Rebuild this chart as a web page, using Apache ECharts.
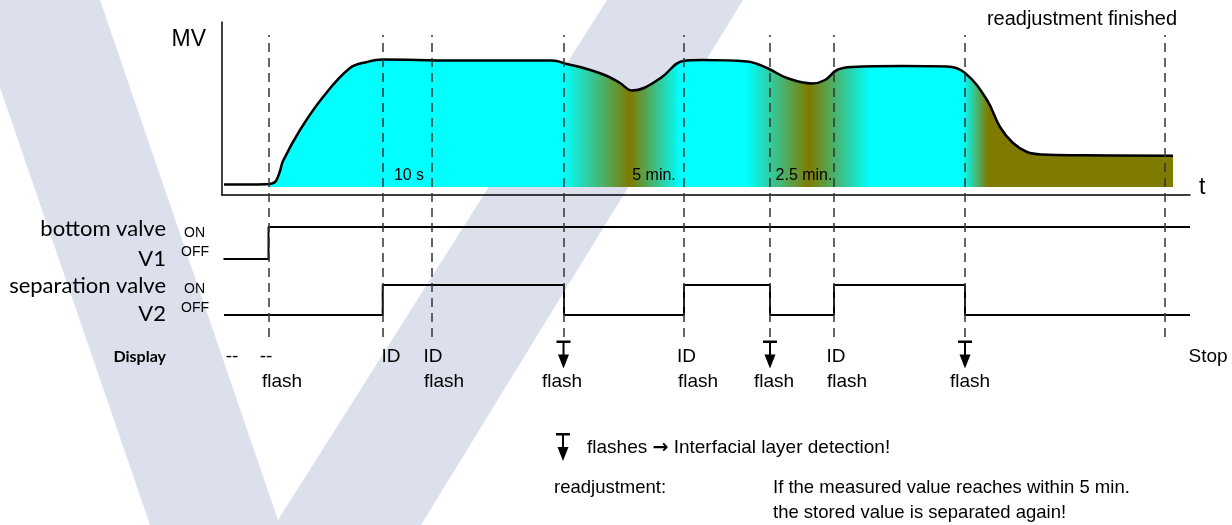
<!DOCTYPE html>
<html><head><meta charset="utf-8">
<script src="https://cdn.jsdelivr.net/npm/echarts@6/dist/echarts.min.js"></script>
<style>html,body{margin:0;padding:0;background:#fff}#c{width:1232px;height:525px}</style>
</head><body><div id="c"></div>
<script>
// ---- data (time in arbitrary units along t, MV in arbitrary units) ----
const mvTime  = [2,44,50,54,58,61,78,101,128,145,161,230,330,345,365,385,398,410,422,440,461,480,525,545,565,590,603,615,630,680,725,743,765,778,791,805,820,860,951];
const mvValue = [2.5,2.8,3.5,6,16,26,57,90,119,125,127.5,126.5,126.5,123,118,111,104,96.5,99,110,126,127,125.5,119,109,103.5,107,117,120,121,120.5,114,87,60,44,35,32.5,31.8,31.3];
// medium in front of the probe: A = upper phase (cyan), B = lower phase (olive)
const phaseTime = [46, 47, 341, 408, 458, 525, 587, 648, 741, 766, 951];
const phaseKind = ['none','A','A','B','A','A','B','A','A','B','B'];
// valves (0 = OFF, 1 = ON)
const v1Time  = [1.5, 46.5, 968];
const v1State = [0, 1, 1];
const v2Time  = [2, 160.7, 342, 462, 548, 612, 743, 968];
const v2State = [0, 1, 0, 1, 0, 1, 0, 0];
// event markers (dashed lines)
const eventTime = [46.7, 160.7, 210, 342, 462, 548, 612, 743, 943];
// interval annotations inside the MV plot
const intervalLabels = ['10 s', '5 min.', '2.5 min.'];
const intervalTime   = [187, 432, 582];
// display row
const displayTime  = [10, 44, 169, 211, 341.5, 464.5, 548, 614, 743, 986];
const displayText  = ['--', '--', 'ID', 'ID', 'ARROW', 'ID', 'ARROW', 'ID', 'ARROW', 'Stop'];
const flashTime    = [60, 222, 340, 476, 552, 625, 748];
const flashText    = ['flash','flash','flash','flash','flash','flash','flash'];

// ---- chart ----
const chart = echarts.init(document.getElementById('c'), null, {renderer: 'canvas'});
const T0 = mvTime[0], T1 = mvTime[mvTime.length - 1];
const phaseColor = {none: 'rgba(0,255,255,0)', A: '#00ffff', B: '#7f7a00'};
const stops = phaseTime.map((t, i) => ({offset: Math.min(1, Math.max(0, (t - T0) / (T1 - T0))), color: phaseColor[phaseKind[i]]}));
const areaGrad = {type: 'linear', x: 0, y: 0, x2: 1, y2: 0, colorStops: stops, global: false};

const L = 222, R = 42, XMAX = 968;
const fontA = 'Liberation Sans, Arial, sans-serif';
const fontC = 'Lato, "Open Sans", sans-serif';
const arrowPath = 'path://M0,0H14V2.5H8V14H12.5L7,28L1.5,14H6V2.5H0Z';

function xA(i, show) {
  return {type: 'value', gridIndex: i, min: 0, max: XMAX, show: !!show,
    axisLine: {show: !!show, onZero: false, lineStyle: {color: '#000', width: 1.5}},
    axisTick: {show: false}, axisLabel: {show: false}, splitLine: {show: false}};
}
function yA(i, min, max, show, inverse) {
  return {type: 'value', gridIndex: i, min: min, max: max, show: !!show, inverse: !!inverse,
    axisLine: {show: !!show, onZero: false, lineStyle: {color: '#000', width: 1.5}},
    axisTick: {show: false}, axisLabel: {show: false}, splitLine: {show: false}};
}
const txt = (s, x, y, o) => ({type: 'text', x: x, y: y, style: Object.assign({text: s, fill: '#000', font: '19px ' + fontA, textVerticalAlign: 'middle'}, o || {})});
const labelStyle = (size) => ({show: true, position: 'inside', formatter: p => p.name, color: '#000', fontFamily: fontA, fontSize: size});

const option = {
  animation: false,
  backgroundColor: '#fff',
  grid: [
    {left: L, right: R, top: 22, height: 173},
    {left: L, right: R, top: 227, height: 32},
    {left: L, right: R, top: 285, height: 30},
    {left: L, right: R, top: 35, height: 302},
    {left: L, right: R, top: 340, height: 50}
  ],
  xAxis: [xA(0, true), xA(1), xA(2), xA(3), xA(4)],
  yAxis: [yA(0, -8, 165, true), yA(1, 0, 1), yA(2, 0, 1), yA(3, 0, 1), yA(4, 0, 50, false, true)],
  graphic: [
    {type: 'polygon', z: -10, silent: true,
     shape: {points: [[-30,0],[100,0],[278,520],[607,0],[743,0],[421,525],[150,525]]},
     style: {fill: '#dbe0ec'}},
    txt('MV', 206, 40, {font: '23px ' + fontA, textAlign: 'right'}),
    txt('t', 1199, 188, {font: '23px ' + fontA}),
    txt('readjustment finished', 1177, 19, {font: '20px ' + fontA, textAlign: 'right'}),
    txt('bottom valve', 166, 229, {font: '22px ' + fontC, textAlign: 'right'}),
    txt('V1', 166, 259, {font: '22px ' + fontC, textAlign: 'right'}),
    txt('separation valve', 166, 286, {font: '22px ' + fontC, textAlign: 'right'}),
    txt('V2', 166, 314, {font: '22px ' + fontC, textAlign: 'right'}),
    txt('ON', 184, 233, {font: '14px ' + fontA}),
    txt('OFF', 181, 252, {font: '14px ' + fontA}),
    txt('ON', 184, 289, {font: '14px ' + fontA}),
    txt('OFF', 181, 308, {font: '14px ' + fontA}),
    txt('Display', 166, 357, {font: 'bold 16px ' + fontC, textAlign: 'right'}),
    {type: 'group', x: 556, y: 433, children: [
      {type: 'rect', shape: {x: 0, y: 0, width: 14, height: 2.5}, style: {fill: '#000'}},
      {type: 'rect', shape: {x: 6, y: 0, width: 2, height: 15}, style: {fill: '#000'}},
      {type: 'polygon', shape: {points: [[1.5, 14], [12.5, 14], [7, 28]]}, style: {fill: '#000'}}
    ]},
    {type: 'text', x: 587, y: 448, style: {
      text: '{a|flashes }{b|\u2192}{a| Interfacial layer detection!}', textVerticalAlign: 'middle',
      rich: {a: {font: '19px ' + fontA, fill: '#000'}, b: {font: 'bold 19px "DejaVu Sans", sans-serif', fill: '#000'}}}},
    txt('readjustment:', 554, 488, {font: '18.5px ' + fontA}),
    txt('If the measured value reaches within 5 min.', 773, 488, {font: '18.5px ' + fontA}),
    txt('the stored value is separated again!', 773, 513, {font: '18.5px ' + fontA})
  ],
  series: [
    {type: 'line', xAxisIndex: 0, yAxisIndex: 0, z: 2,
     data: mvTime.map((t, i) => [t, mvValue[i]]),
     smooth: 0.4, showSymbol: false, symbol: 'none',
     lineStyle: {color: '#000', width: 2.5},
     areaStyle: {origin: 0, color: areaGrad, opacity: 1}},
    {type: 'scatter', xAxisIndex: 0, yAxisIndex: 0, z: 6, symbolSize: 1, clip: false,
     itemStyle: {color: 'rgba(0,0,0,0)', opacity: 1},
     data: intervalTime.map((t, i) => ({value: [t, 11], name: intervalLabels[i]})),
     label: labelStyle(16)},
    {type: 'line', xAxisIndex: 1, yAxisIndex: 1, step: 'end', clip: false, symbol: 'none',
     data: v1Time.map((t, i) => [t, v1State[i]]), lineStyle: {color: '#000', width: 2}},
    {type: 'line', xAxisIndex: 2, yAxisIndex: 2, step: 'end', clip: false, symbol: 'none',
     data: v2Time.map((t, i) => [t, v2State[i]]), lineStyle: {color: '#000', width: 2}},
    {type: 'line', xAxisIndex: 3, yAxisIndex: 3, z: 5, data: [], symbol: 'none',
     markLine: {silent: true, symbol: ['none', 'none'], animation: false, label: {show: false},
       lineStyle: {color: '#333', width: 1.5, type: [9, 6]},
       data: eventTime.map(t => ({xAxis: t}))}},
    {type: 'scatter', xAxisIndex: 4, yAxisIndex: 4, z: 6, clip: false,
     itemStyle: {opacity: 1},
     data: displayTime.map((t, i) => displayText[i] === 'ARROW'
        ? {value: [t, 14.5], symbol: arrowPath, symbolSize: [14, 28], itemStyle: {color: '#000', opacity: 1}, label: {show: false}}
        : {value: [t, 17], name: displayText[i], symbolSize: 1, itemStyle: {color: 'rgba(0,0,0,0)', opacity: 1}}),
     label: labelStyle(19)},
    {type: 'scatter', xAxisIndex: 4, yAxisIndex: 4, z: 6, clip: false, symbolSize: 1,
     itemStyle: {color: 'rgba(0,0,0,0)', opacity: 1},
     data: flashTime.map((t, i) => ({value: [t, 42], name: flashText[i]})),
     label: labelStyle(19)}
  ]
};
chart.setOption(option);
</script></body></html>
